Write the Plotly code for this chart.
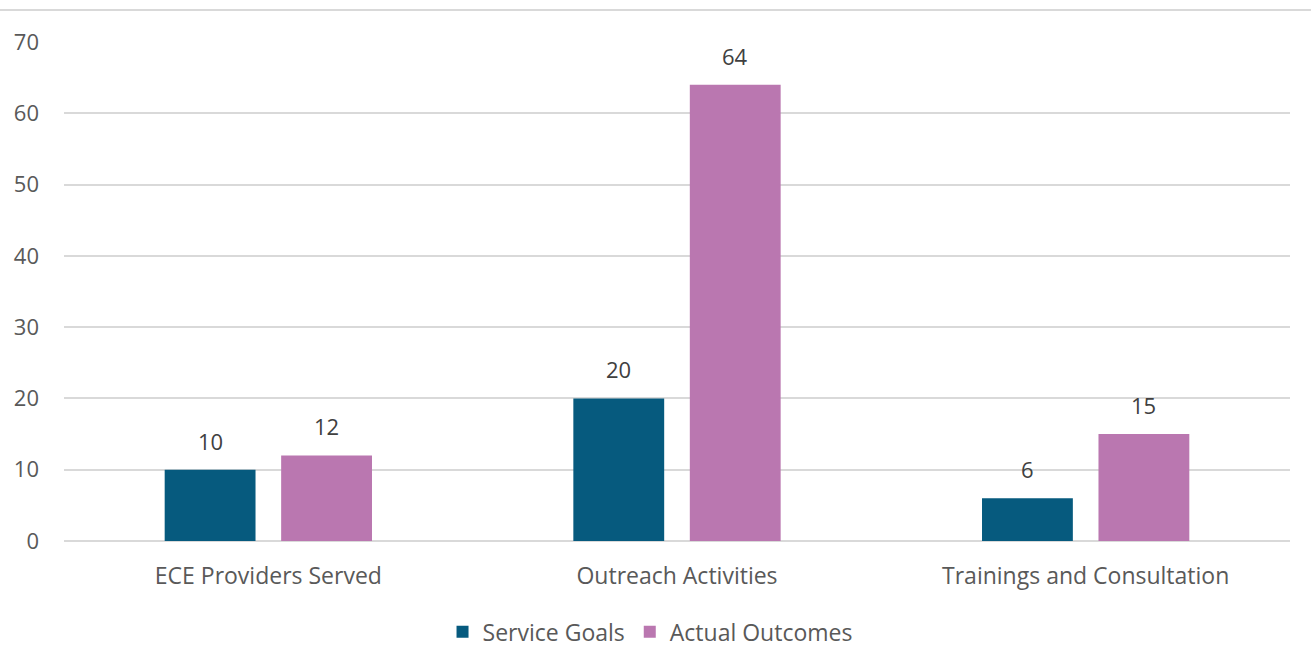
import plotly.graph_objects as go

categories = ["ECE Providers Served", "Outreach Activities", "Trainings and Consultation"]
service_goals = [10, 20, 6]
actual_outcomes = [12, 64, 15]
y_ticks = [0, 10, 20, 30, 40, 50, 60, 70]

FONT = "Open Sans, Liberation Sans, Arial, sans-serif"
W, H = 1313, 670
ML, MR, MT, MB = 64, 23, 42, 129
BARGAP, GROUPGAP = 0.43, 0.22

fig = go.Figure()
fig.add_trace(go.Bar(name="Service Goals", x=categories, y=service_goals,
                     marker=dict(color="#065A7E", line=dict(width=0))))
fig.add_trace(go.Bar(name="Actual Outcomes", x=categories, y=actual_outcomes,
                     marker=dict(color="#BA77B0", line=dict(width=0))))

# data labels above bars
cat_px = (W - ML - MR) / len(categories)
slot_px = cat_px * (1 - BARGAP) / 2
annotations = []
for series, sign in ((service_goals, -1), (actual_outcomes, 1)):
    for c, v in zip(categories, series):
        annotations.append(dict(x=c, y=v, xref="x", yref="y", text=str(v), showarrow=False,
                                xshift=sign * slot_px / 2, yshift=29, yanchor="middle",
                                font=dict(size=22, color="#404040", family=FONT)))

fig.update_layout(
    width=W, height=H,
    margin=dict(l=ML, r=MR, t=MT, b=MB),
    plot_bgcolor="white", paper_bgcolor="white",
    barmode="group", bargap=BARGAP, bargroupgap=GROUPGAP,
    font=dict(family=FONT, color="#595959", size=22),
    showlegend=True,
    legend=dict(orientation="h", x=0.478, xanchor="center", y=-0.182, yanchor="middle",
                font=dict(size=23, color="#595959"), itemwidth=30, traceorder="normal"),
    xaxis=dict(showline=False, showgrid=False, ticks="", ticklabelstandoff=19,
               tickfont=dict(size=23, color="#595959")),
    yaxis=dict(range=[0, 70], tickvals=y_ticks, showgrid=True, gridcolor="#D9D9D9", gridwidth=1.5,
               zeroline=True, zerolinecolor="#D9D9D9", zerolinewidth=1.5, showline=False,
               ticks="", ticklabelstandoff=24, tickfont=dict(size=22, color="#595959")),
    annotations=annotations,
    shapes=[dict(type="line", xref="paper", yref="paper", x0=-0.0522, x1=1.0171,
                 y0=1.0641, y1=1.0641, line=dict(color="#D9D9D9", width=2))],
)

fig.write_html("out.html")
